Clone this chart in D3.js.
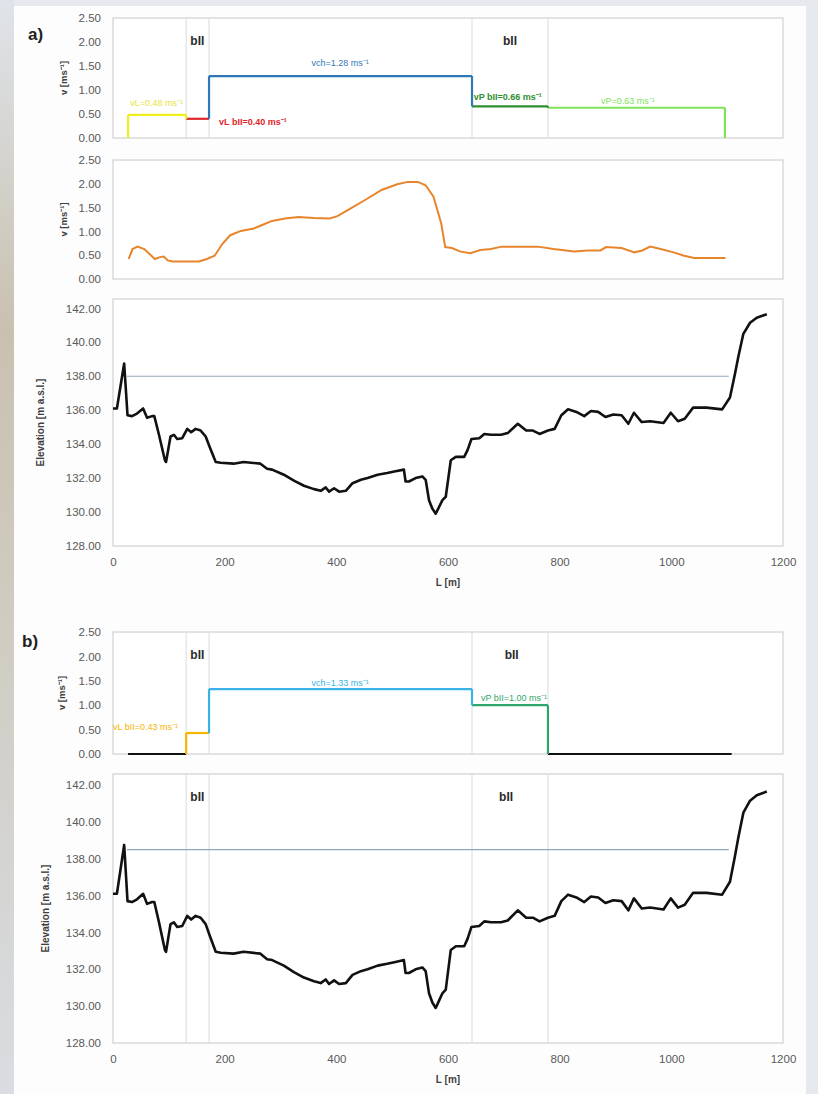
<!DOCTYPE html>
<html>
<head>
<meta charset="utf-8">
<script src="https://cdn.jsdelivr.net/npm/d3@7"></script>
<style>
    body { margin: 0; background: #e6eaef; }
    svg { display: block; font-family: 'Liberation Sans', Arial, sans-serif; }
</style>
</head>
<body>
<div class="chart"></div>
<script>

// zone edges along the cross-section [m] and mean velocities [m/s]
const edgesA = [27, 131, 172, 643, 779, 1096];
const velA = [0.48, 0.40, 1.29, 0.66, 0.63];
const colorsA = ['#f2ee1e', '#e0262a', '#2f78b8', '#2f8f2f', '#7ee35a'];

const edgesB = [27, 131, 172, 643, 779, 1108];
const velB = [0.00, 0.43, 1.33, 1.00, 0.00];
const colorsB = ['#111111', '#f7b500', '#3ab2e6', '#2fa56a', '#111111'];

const bounds = [131, 172, 643, 779];

// depth-averaged velocity along the section (panel a, middle)
const velL = [28, 35, 44, 56, 65, 75, 84, 91, 98, 107, 121, 154, 168, 182, 196, 210, 229, 252, 266, 285,
    308, 332, 360, 388, 402, 425, 453, 481, 509, 528, 546, 560, 574, 588, 595, 607, 621, 640, 658, 677,
    696, 733, 761, 789, 826, 850, 873, 883, 911, 934, 948, 962, 981, 1004, 1023, 1041, 1069, 1097];
const velV = [0.42, 0.63, 0.68, 0.63, 0.53, 0.42, 0.46, 0.47, 0.39, 0.37, 0.37, 0.37, 0.42, 0.49, 0.74, 0.92, 1.01, 1.06, 1.13, 1.22,
    1.27, 1.30, 1.28, 1.27, 1.32, 1.48, 1.67, 1.87, 1.99, 2.04, 2.04, 1.97, 1.73, 1.16, 0.67, 0.65, 0.58, 0.54, 0.61, 0.63,
    0.68, 0.68, 0.68, 0.63, 0.58, 0.60, 0.60, 0.67, 0.65, 0.56, 0.60, 0.68, 0.63, 0.56, 0.49, 0.44, 0.44, 0.44];

// ground profile
const profL = [0, 7, 20, 26, 34, 43, 54, 61, 70, 74, 82, 93, 95, 103, 109, 115, 124, 133, 140, 148,
    157, 166, 173, 184, 193, 216, 234, 264, 276, 285, 306, 324, 342, 360, 372, 381, 387, 396, 405, 417,
    429, 444, 456, 474, 491, 506, 521, 524, 530, 542, 554, 560, 566, 572, 578, 584, 590, 596, 605, 614,
    629, 635, 642, 656, 665, 677, 695, 707, 725, 740, 752, 764, 779, 791, 803, 815, 830, 844, 856, 869,
    882, 896, 911, 923, 933, 947, 962, 986, 999, 1012, 1024, 1039, 1063, 1091, 1105, 1114, 1120, 1129, 1141, 1153, 1171];
const profE = [136.1, 136.1, 138.75, 135.7, 135.65, 135.8, 136.1, 135.55, 135.65, 135.65, 134.6, 133.05, 132.95, 134.45, 134.55, 134.3, 134.35, 134.9, 134.7, 134.9,
    134.8, 134.45, 133.85, 132.95, 132.9, 132.85, 132.95, 132.85, 132.55, 132.5, 132.2, 131.85, 131.55, 131.35, 131.25, 131.45, 131.2, 131.4, 131.2, 131.25,
    131.7, 131.9, 132.0, 132.2, 132.3, 132.4, 132.5, 131.8, 131.8, 132.0, 132.1, 131.9, 130.7, 130.2, 129.9, 130.3, 130.7, 130.9, 133.05, 133.25,
    133.25, 133.65, 134.3, 134.35, 134.6, 134.55, 134.55, 134.65, 135.2, 134.8, 134.8, 134.6, 134.8, 134.9, 135.7, 136.05, 135.9, 135.65, 135.95, 135.9,
    135.6, 135.75, 135.7, 135.2, 135.85, 135.3, 135.35, 135.25, 135.85, 135.35, 135.5, 136.15, 136.15, 136.05, 136.75, 138.15, 139.15, 140.5, 141.15, 141.45, 141.65];

const waterA = 138.0;
const waterB = 138.5;
const waterSpan = [25, 1103];

const vTicks = [0, 0.5, 1, 1.5, 2, 2.5];
const eTicks = [128, 130, 132, 134, 136, 138, 140, 142];
const xTicks = [0, 200, 400, 600, 800, 1000, 1200];

const width = 818;
const height = 1094;

const x = d3.scaleLinear().domain([0, 1200]).range([113, 783]);

buildCanvas();


function buildCanvas() {

    const svg = d3.select('.chart')
        .append('svg')
        .attr('width', width)
        .attr('height', height);

    let grad = svg.append('defs').append('linearGradient')
        .attr('id', 'strip')
        .attr('x1', 0).attr('y1', 0).attr('x2', 0).attr('y2', 1);
    grad.append('stop').attr('offset', 0).attr('stop-color', '#dfe4ea');
    grad.append('stop').attr('offset', 0.3).attr('stop-color', '#c9c1b0');
    grad.append('stop').attr('offset', 0.55).attr('stop-color', '#cfcbc0');
    grad.append('stop').attr('offset', 1).attr('stop-color', '#d9dce1');

    svg.append('rect').attr('width', 14).attr('height', height).attr('fill', 'url(#strip)');
    svg.append('rect')
        .attr('x', 14).attr('y', 6)
        .attr('width', 792).attr('height', height - 6)
        .attr('fill', '#fdfdfd');

    svg.append('text').attr('x', 28).attr('y', 40)
        .attr('font-size', 17).attr('font-weight', 'bold').attr('fill', '#222')
        .text('a)');
    svg.append('text').attr('x', 22).attr('y', 647)
        .attr('font-size', 17).attr('font-weight', 'bold').attr('fill', '#222')
        .text('b)');

    // a) top: zone velocities
    let a1 = panel(svg, 18, 138, [0, 2.5], vTicks, 'v [ms⁻¹]', 64, true);
    drawBounds(svg, a1);
    drawSteps(svg, a1, edgesA, velA, colorsA);
    bII(svg, a1, [151, 711]);
    notes(svg, a1, [
        { t: 'vL=0.48 ms⁻¹', L: 31, v: 0.48, dy: -9, c: '#e8e43a', w: 'normal' },
        { t: 'vL bII=0.40 ms⁻¹', L: 190, v: 0.40, dy: 6, c: '#e0262a', w: 'bold' },
        { t: 'vch=1.28 ms⁻¹', L: 407, v: 1.29, dy: -10, c: '#2f78b8', w: 'normal', a: 'middle' },
        { t: 'vP bII=0.66 ms⁻¹', L: 646, v: 0.66, dy: -6, c: '#2f8f2f', w: 'bold' },
        { t: 'vP=0.63 ms⁻¹', L: 874, v: 0.63, dy: -4, c: '#7ee35a', w: 'normal' }
    ]);

    // a) middle: velocity along section
    let a2 = panel(svg, 160, 279, [0, 2.5], vTicks, 'v [ms⁻¹]', 64, true);
    svg.append('path')
        .datum(velL.map((d, i) => [d, velV[i]]))
        .attr('fill', 'none')
        .attr('stroke', '#e8852c')
        .attr('stroke-width', 2)
        .attr('d', d3.line().x(d => x(d[0])).y(d => a2.y(d[1])));

    // a) bottom: elevation
    let a3 = panel(svg, 299, 546, [128, 142.55], eTicks, 'Elevation [m a.s.l.]', 40, false);
    drawProfile(svg, a3, waterA);

    // b) top
    let b1 = panel(svg, 632, 754, [0, 2.5], vTicks, 'v [ms⁻¹]', 62, true);
    drawBounds(svg, b1);
    drawSteps(svg, b1, edgesB, velB, colorsB);
    bII(svg, b1, [151, 714]);
    notes(svg, b1, [
        { t: 'vL bII=0.43 ms⁻¹', L: 0, v: 0.43, dy: -3, c: '#f7b500', w: 'normal' },
        { t: 'vch=1.33 ms⁻¹', L: 407, v: 1.33, dy: -3, c: '#3ab2e6', w: 'normal', a: 'middle' },
        { t: 'vP bII=1.00 ms⁻¹', L: 659, v: 1.00, dy: -4, c: '#2fa56a', w: 'normal' }
    ]);

    // b) bottom
    let b2 = panel(svg, 774, 1043, [128, 142.6], eTicks, 'Elevation [m a.s.l.]', 45, false);
    drawBounds(svg, b2);
    bII(svg, b2, [151, 704]);
    drawProfile(svg, b2, waterB);

    [a3, b2].forEach((p) => {
        let ax = svg.append('g')
            .attr('transform', `translate(0, ${p.bottom})`)
            .call(d3.axisBottom(x).tickValues(xTicks).tickSize(0).tickPadding(12)
                .tickFormat(d3.format('d')));
        ax.select('.domain').remove();
        ax.selectAll('text')
            .attr('font-size', 11.5)
            .attr('fill', '#595959')
            .attr('font-family', 'Liberation Sans, Arial, sans-serif');

        svg.append('text')
            .attr('x', x(600))
            .attr('y', p.bottom + 40)
            .attr('text-anchor', 'middle')
            .attr('font-size', 10)
            .attr('font-weight', 'bold')
            .attr('fill', '#404040')
            .text('L [m]');
    });
}


function panel(svg, top, bottom, domain, ticks, title, titleX, isVel) {

    let y = d3.scaleLinear().domain(domain).range([bottom, top]);

    svg.append('rect')
        .attr('x', x(0))
        .attr('y', top)
        .attr('width', x(1200) - x(0))
        .attr('height', bottom - top)
        .attr('fill', '#ffffff')
        .attr('stroke', '#c8c8c8')
        .attr('stroke-width', 1);

    let ax = svg.append('g')
        .attr('transform', 'translate(101, 0)')
        .call(d3.axisLeft(y).tickValues(ticks).tickSize(0).tickPadding(0)
            .tickFormat(d3.format('.2f')));
    ax.select('.domain').remove();
    ax.selectAll('text')
        .attr('font-size', 11.5)
        .attr('fill', '#595959')
        .attr('font-family', 'Liberation Sans, Arial, sans-serif');

    svg.append('text')
        .attr('transform', `translate(${titleX}, ${(top + bottom) / 2}) rotate(-90)`)
        .attr('text-anchor', 'middle')
        .attr('dy', '0.35em')
        .attr('font-size', isVel ? 9.5 : 10)
        .attr('font-weight', 'bold')
        .attr('fill', '#404040')
        .text(title);

    return { y: y, top: top, bottom: bottom };
}


function drawBounds(svg, p) {
    svg.selectAll(null)
        .data(bounds)
        .enter()
        .append('line')
        .attr('x1', d => x(d)).attr('x2', d => x(d))
        .attr('y1', p.top).attr('y2', p.bottom)
        .attr('stroke', '#dadada')
        .attr('stroke-width', 1);
}


function drawSteps(svg, p, edges, vel, colors) {

    let line = d3.line().x(d => x(d[0])).y(d => p.y(d[1]));

    // horizontal level of each zone
    vel.forEach((v, i) => {
        svg.append('path')
            .datum([[edges[i], v], [edges[i + 1], v]])
            .attr('fill', 'none')
            .attr('stroke', colors[i])
            .attr('stroke-width', 2.2)
            .attr('d', line);
    });

    // jumps between zones, drawn in the colour of the faster zone
    let levels = [0].concat(vel, [0]);
    edges.forEach((e, i) => {
        let lo = levels[i], hi = levels[i + 1];
        let k = hi >= lo ? i : i - 1;
        k = Math.max(0, Math.min(vel.length - 1, k));
        svg.append('path')
            .datum([[e, lo], [e, hi]])
            .attr('fill', 'none')
            .attr('stroke', colors[k])
            .attr('stroke-width', 2.2)
            .attr('d', line);
    });
}


function bII(svg, p, at) {
    svg.selectAll(null)
        .data(at)
        .enter()
        .append('text')
        .attr('x', d => x(d))
        .attr('y', p.top + 27)
        .attr('text-anchor', 'middle')
        .attr('font-size', 12)
        .attr('font-weight', 'bold')
        .attr('fill', '#2b2b2b')
        .text('bII');
}


function notes(svg, p, list) {
    svg.selectAll(null)
        .data(list)
        .enter()
        .append('text')
        .attr('x', d => x(d.L))
        .attr('y', d => p.y(d.v) + d.dy)
        .attr('text-anchor', d => d.a || 'start')
        .attr('font-size', 9)
        .attr('font-weight', d => d.w)
        .attr('fill', d => d.c)
        .text(d => d.t);
}


function drawProfile(svg, p, water) {

    svg.append('line')
        .attr('x1', x(waterSpan[0])).attr('x2', x(waterSpan[1]))
        .attr('y1', p.y(water)).attr('y2', p.y(water))
        .attr('stroke', '#8fa6bd')
        .attr('stroke-width', 1.2);

    svg.append('path')
        .datum(profL.map((d, i) => [d, profE[i]]))
        .attr('fill', 'none')
        .attr('stroke', '#111111')
        .attr('stroke-width', 2.6)
        .attr('stroke-linejoin', 'round')
        .attr('d', d3.line().x(d => x(d[0])).y(d => p.y(d[1])));
}

</script>
</body>
</html>
